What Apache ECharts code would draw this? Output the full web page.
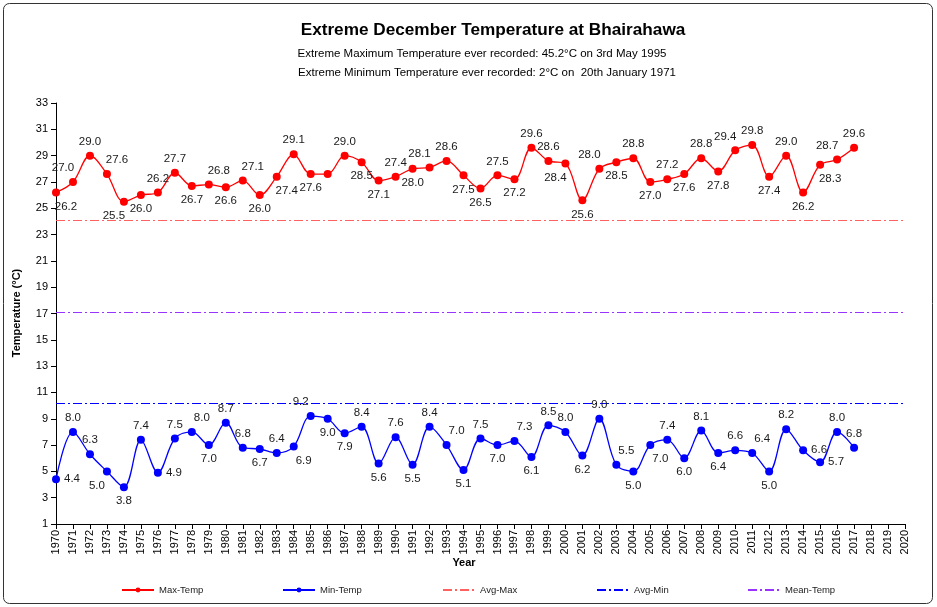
<!DOCTYPE html>
<html>
<head>
<meta charset="UTF-8">
<script src="https://cdn.jsdelivr.net/npm/echarts@6/dist/echarts.min.js"></script>
<style>
html, body { margin: 0; padding: 0; background: #fff; }
#main { width: 937px; height: 607px; }
</style>
</head>
<body>
<div id="main"></div>
<script>
var years = ['1970','1971','1972','1973','1974','1975','1976','1977','1978','1979',
             '1980','1981','1982','1983','1984','1985','1986','1987','1988','1989',
             '1990','1991','1992','1993','1994','1995','1996','1997','1998','1999',
             '2000','2001','2002','2003','2004','2005','2006','2007','2008','2009',
             '2010','2011','2012','2013','2014','2015','2016','2017','2018','2019','2020'];

var maxTemp = [26.2, 27.0, 29.0, 27.6, 25.5, 26.0, 26.2, 27.7, 26.7, 26.8,
               26.6, 27.1, 26.0, 27.4, 29.1, 27.6, 27.6, 29.0, 28.5, 27.1,
               27.4, 28.0, 28.1, 28.6, 27.5, 26.5, 27.5, 27.2, 29.6, 28.6,
               28.4, 25.6, 28.0, 28.5, 28.8, 27.0, 27.2, 27.6, 28.8, 27.8,
               29.4, 29.8, 27.4, 29.0, 26.2, 28.3, 28.7, 29.6];

var minTemp = [4.4, 8.0, 6.3, 5.0, 3.8, 7.4, 4.9, 7.5, 8.0, 7.0,
               8.7, 6.8, 6.7, 6.4, 6.9, 9.2, 9.0, 7.9, 8.4, 5.6,
               7.6, 5.5, 8.4, 7.0, 5.1, 7.5, 7.0, 7.3, 6.1, 8.5,
               8.0, 6.2, 9.0, 5.5, 5.0, 7.0, 7.4, 6.0, 8.1, 6.4,
               6.6, 6.4, 5.0, 8.2, 6.6, 5.7, 8.0, 6.8];

var avgMax = 24.1;
var avgMin = 10.2;
var meanTemp = 17.1;

var yTicks = [1, 3, 5, 7, 9, 11, 13, 15, 17, 19, 21, 23, 25, 27, 29, 31, 33];

// where each data label sits, as in the original (T=top, B=bottom, L/R sides, - hidden)
var maxLabelAt = ['BR','TL','T','TR','BL','B','T','T','B','TR',
                  'B','TR','B','BR','T','B','-','T','B','B',
                  'T','B','TL','T','B','B','T','B','T','T',
                  'BL','B','TL','B','T','B','T','B','T','B',
                  'TL','T','B','T','B','BR','TL','T'];
var minLabelAt = ['R','T','T','BL','B','T','R','T','TR','B',
                  'T','T','B','T','BR','TL','B','B','T','B',
                  'T','B','T','TR','B','T','B','TR','B','T',
                  'T','B','T','TR','B','BR','T','B','T','B',
                  'T','TR','B','T','R','R','T','T'];

var FONT = '"Liberation Sans", Arial, sans-serif';

function labelStyle(code) {
    if (code === '-') return { show: false };
    var pos = { T: 'top', B: 'bottom', L: 'left', R: 'right' }[code.charAt(0)];
    var dx = code.charAt(1) === 'L' ? -10 : code.charAt(1) === 'R' ? 10 : 0;
    return { position: pos, offset: [dx, 0] };
}

function tempSeries(name, arr, codes, color) {
    return {
        name: name,
        type: 'line',
        data: arr.map(function (v, i) { return { value: v, label: labelStyle(codes[i]) }; }),
        smooth: 0.35,
        symbol: 'circle',
        symbolSize: 8,
        lineStyle: { color: color, width: 1.3 },
        itemStyle: { color: color },
        label: {
            show: true,
            fontFamily: FONT,
            fontSize: 11.5,
            color: '#1a1a1a',
            distance: 4,
            formatter: function (p) { return p.value.toFixed(1); }
        },
        z: 5
    };
}

function refSeries(name, val, color) {
    var dash = [9, 3, 2, 3];
    return {
        name: name,
        type: 'line',
        data: [],
        symbol: 'none',
        color: color,
        lineStyle: { color: color, width: 1, type: dash },
        itemStyle: { color: color },
        markLine: {
            silent: true,
            symbol: 'none',
            label: { show: false },
            lineStyle: { color: color, width: 1.2, type: dash, opacity: 1 },
            data: [{ yAxis: val }]
        }
    };
}

function legendAt(name, left, noDot) {
    var item = { name: name };
    if (noDot) item.itemStyle = { opacity: 0 };
    return {
        data: [item],
        left: left,
        top: 580,
        itemWidth: 32,
        itemHeight: 6,
        itemGap: 5,
        textStyle: { fontFamily: FONT, fontSize: 9.5, color: '#222' },
        selectedMode: false
    };
}

var chart = echarts.init(document.getElementById('main'));
chart.setOption({
    animation: false,
    backgroundColor: '#fff',
    grid: { left: 56, right: 32, top: 103, bottom: 83 },
    legend: [
        legendAt('Max-Temp', 116),
        legendAt('Min-Temp', 277),
        legendAt('Avg-Max', 437, true),
        legendAt('Avg-Min', 591, true),
        legendAt('Mean-Temp', 742, true)
    ],
    xAxis: {
        type: 'category',
        data: years,
        boundaryGap: false,
        axisLine: { lineStyle: { color: '#000', width: 1 } },
        axisTick: { show: true, interval: 0, length: 5, lineStyle: { color: '#000' } },
        axisLabel: {
            interval: 0,
            rotate: 90,
            fontFamily: FONT,
            fontSize: 11,
            color: '#000',
            margin: 6
        },
        splitLine: { show: false }
    },
    yAxis: {
        type: 'value',
        min: 1,
        max: 33,
        axisLine: { show: true, lineStyle: { color: '#000', width: 1 } },
        axisTick: { show: true, length: 5, lineStyle: { color: '#000' }, customValues: yTicks },
        axisLabel: { fontFamily: FONT, fontSize: 11, color: '#000', margin: 8, customValues: yTicks },
        splitLine: { show: false }
    },
    series: [
        tempSeries('Max-Temp', maxTemp, maxLabelAt, '#ff0000'),
        tempSeries('Min-Temp', minTemp, minLabelAt, '#0000ff'),
        refSeries('Avg-Max', avgMax, '#ff6060'),
        refSeries('Avg-Min', avgMin, '#0000ff'),
        refSeries('Mean-Temp', meanTemp, '#9933ff')
    ],
    graphic: [
        {
            type: 'rect',
            shape: { x: 3.5, y: 3.5, width: 929, height: 600, r: 6 },
            style: { fill: 'none', stroke: '#333', lineWidth: 1 },
            silent: true
        },
        {
            type: 'text', x: 493, y: 30,
            style: { text: 'Extreme December Temperature at Bhairahawa', fontFamily: FONT,
                     fontSize: 17.2, fontWeight: 'bold', fill: '#000', align: 'center', verticalAlign: 'middle' }
        },
        {
            type: 'text', x: 482, y: 54,
            style: { text: 'Extreme Maximum Temperature ever recorded: 45.2°C on 3rd May 1995', fontFamily: FONT,
                     fontSize: 11.5, fill: '#000', align: 'center', verticalAlign: 'middle' }
        },
        {
            type: 'text', x: 487, y: 73,
            style: { text: 'Extreme Minimum Temperature ever recorded: 2°C on  20th January 1971', fontFamily: FONT,
                     fontSize: 11.5, fill: '#000', align: 'center', verticalAlign: 'middle' }
        },
        {
            type: 'text', x: 464, y: 563,
            style: { text: 'Year', fontFamily: FONT, fontSize: 11, fontWeight: 'bold',
                     fill: '#000', align: 'center', verticalAlign: 'middle' }
        },
        {
            type: 'text', x: 17, y: 313, rotation: Math.PI / 2,
            style: { text: 'Temperature (°C)', fontFamily: FONT, fontSize: 11, fontWeight: 'bold',
                     fill: '#000', align: 'center', verticalAlign: 'middle' }
        }
    ]
});
</script>
</body>
</html>
